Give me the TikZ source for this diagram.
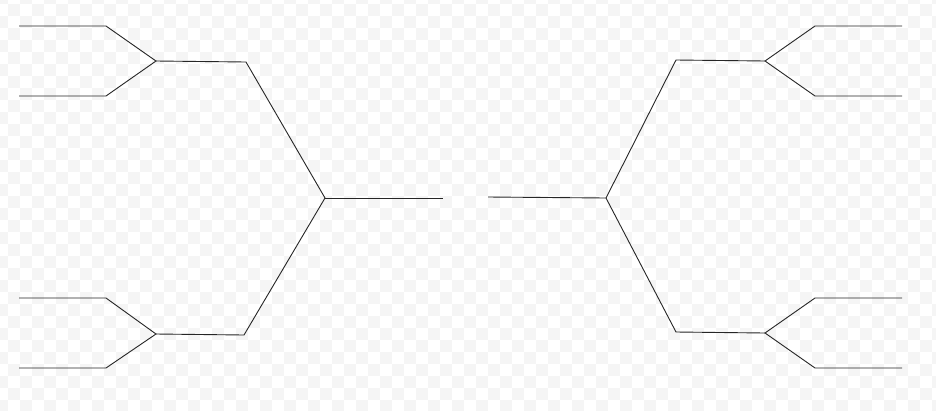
\documentclass[tikz,border=0pt]{standalone}
\usepackage{tikz}

\begin{document}
\begin{tikzpicture}[x=1pt,y=-1pt]
\useasboundingbox (0,0) rectangle (936,410);
%background squares
\fill[white] (0,0) rectangle (936,410);
\begin{scope}
\clip (0,0) rectangle (936,410);
\foreach \i in {0,2,...,78}{
\foreach \j in {0,2,...,34}{
\fill[black!4] (-4+12*\i,-8+12*\j) rectangle +(12,12);
\fill[black!4] (8+12*\i,4+12*\j) rectangle +(12,12);
}}
\end{scope}
%left half
\coordinate (t1) at (19,26); \coordinate (t1b) at (106,26);
\coordinate (t2) at (19,96); \coordinate (t2b) at (106,96);
\coordinate (t3) at (19,298); \coordinate (t3b) at (106,298);
\coordinate (t4) at (19,368); \coordinate (t4b) at (106,368);
\coordinate (m1) at (156,61); \coordinate (m1b) at (246,62);
\coordinate (m2) at (156,334); \coordinate (m2b) at (244,335);
\coordinate (c1) at (325,198); \coordinate (f1) at (443,198);
%right half
\coordinate (t5) at (902,26); \coordinate (t5b) at (815,26);
\coordinate (t6) at (902,96); \coordinate (t6b) at (815,96);
\coordinate (t7) at (902,298); \coordinate (t7b) at (815,298);
\coordinate (t8) at (902,368); \coordinate (t8b) at (815,368);
\coordinate (m3) at (765,61); \coordinate (m3b) at (676,60);
\coordinate (m4) at (765,333); \coordinate (m4b) at (676,332);
\coordinate (c2) at (606,198); \coordinate (f2) at (488,197);
\begin{scope}[line width=0.9pt,black!85]
\draw (t1) -- (t1b) -- (m1) -- (t2b) -- (t2);
\draw (t3) -- (t3b) -- (m2) -- (t4b) -- (t4);
\draw (m1) -- (m1b) -- (c1) -- (m2b) -- (m2);
\draw (c1) -- (f1);
\draw (t5) -- (t5b) -- (m3) -- (t6b) -- (t6);
\draw (t7) -- (t7b) -- (m4) -- (t8b) -- (t8);
\draw (m3) -- (m3b) -- (c2) -- (m4b) -- (m4);
\draw (c2) -- (f2);
\end{scope}
\end{tikzpicture}
\end{document}
